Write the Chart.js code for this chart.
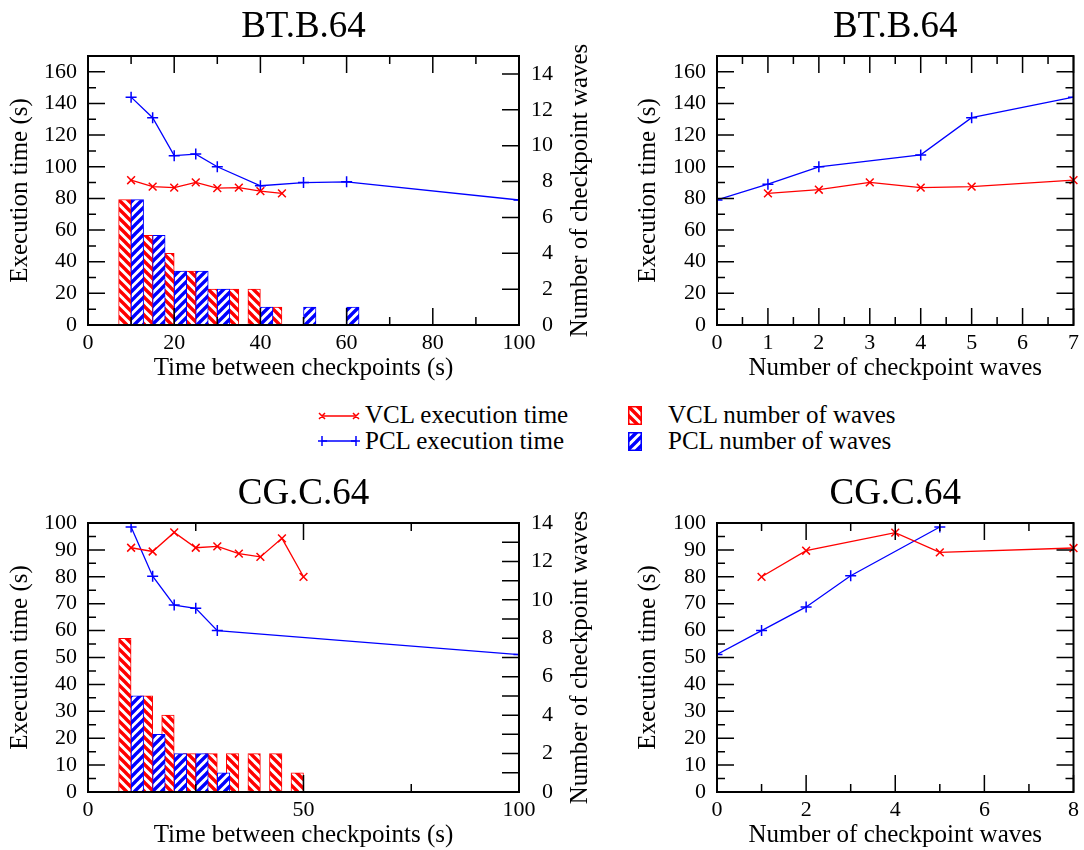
<!DOCTYPE html>
<html>
<head>
<meta charset="utf-8">
<script src="https://cdn.jsdelivr.net/npm/chart.js@4.4.1/dist/chart.umd.min.js"></script>
<style>
  body { margin: 0; background: #fff; width: 1084px; height: 850px; position: relative; overflow: hidden;
         font-family: "Liberation Serif", "Times New Roman", serif; }
  .box { position: absolute; }
  .key { position: absolute; font-size: 25px; line-height: 26px; color: #000; white-space: nowrap; }
  .sym { position: absolute; }
</style>
</head>
<body>
<div class="box" style="left:0;top:0"><canvas id="btTime" width="600" height="383"></canvas></div>
<div class="box" style="left:600px;top:0"><canvas id="btWaves" width="484" height="383"></canvas></div>
<div class="box" style="left:0;top:467px"><canvas id="cgTime" width="600" height="383"></canvas></div>
<div class="box" style="left:600px;top:467px"><canvas id="cgWaves" width="484" height="383"></canvas></div>

<svg class="sym" style="left:318px;top:409px" width="42" height="14">
  <line x1="4" y1="7" x2="38" y2="7" stroke="#f00" stroke-width="1.3"/>
  <path d="M1 4 L7 10 M7 4 L1 10 M35 4 L41 10 M41 4 L35 10" stroke="#f00" stroke-width="1.5"/>
</svg>
<div class="key" style="left:365px;top:402px">VCL execution time</div>
<svg class="sym" style="left:318px;top:434px" width="42" height="14">
  <line x1="4" y1="7" x2="38" y2="7" stroke="#00f" stroke-width="1.3"/>
  <path d="M4 2 L4 12 M-1 7 L9 7 M38 2 L38 12 M33 7 L43 7" stroke="#00f" stroke-width="1.5"/>
</svg>
<div class="key" style="left:365px;top:428px">PCL execution time</div>
<canvas class="sym" id="keyVcl" style="left:628px;top:406px" width="14" height="19"></canvas>
<div class="key" style="left:668px;top:402px">VCL number of waves</div>
<canvas class="sym" id="keyPcl" style="left:628px;top:432px" width="14" height="19"></canvas>
<div class="key" style="left:668px;top:428px">PCL number of waves</div>

<script>
const FONT = '"Liberation Serif", "Times New Roman", serif';
const RED = '#ff0000';
const BLUE = '#0000ff';

// BT.B.64 - time between checkpoints (s)
const btVclTimeX = [10, 15, 20, 25, 30, 35, 40, 45];
const btVclTime = [91.5, 87.4, 86.8, 90.1, 86.5, 86.8, 84.6, 83.2];
const btPclTimeX = [10, 15, 20, 25, 30, 40, 50, 60, 100];
const btPclTime = [144, 131, 107, 108, 100, 88, 90, 90.5, 79];
const btWaveX = [10, 15, 20, 25, 30, 35, 40, 45, 50, 55, 60];
const btVclWaves = [7, 5, 4, 3, 2, 2, 2, 1, 0, 0, 0];
const btPclWaves = [7, 5, 3, 3, 2, 0, 1, 0, 1, 0, 1];

// BT.B.64 - number of checkpoint waves
const btVclByWaveX = [1, 2, 3, 4, 5, 7];
const btVclByWave = [83.2, 85.5, 90.1, 86.8, 87.4, 91.6];
const btPclByWaveX = [0, 1, 2, 4, 5, 7];
const btPclByWave = [79, 89, 100, 107.5, 131, 144];

// CG.C.64 - time between checkpoints (s)
const cgVclTimeX = [10, 15, 20, 25, 30, 35, 40, 45, 50];
const cgVclTime = [90.8, 89.4, 96.5, 90.8, 91.3, 88.6, 87.4, 94.3, 80];
const cgPclTimeX = [10, 15, 20, 25, 30, 100];
const cgPclTime = [98.5, 80.2, 69.5, 68.3, 60, 51.1];
const cgVclWaveX = [10, 15, 20, 25, 30, 35, 40, 45, 50, 100];
const cgVclWaves = [8, 5, 4, 2, 2, 2, 2, 2, 1, 0];
const cgPclWaveX = [10, 15, 20, 25, 30, 35, 40, 45, 50];
const cgPclWaves = [5, 3, 2, 2, 1, 0, 0, 0, 0];

// CG.C.64 - number of checkpoint waves
const cgVclByWaveX = [1, 2, 4, 5, 8];
const cgVclByWave = [80, 89.7, 96.4, 89.1, 90.7];
const cgPclByWaveX = [0, 1, 2, 3, 5];
const cgPclByWave = [51.1, 60, 68.8, 80.4, 98.5];

const tickFont = { family: FONT, size: 22 };
const titleFont = { family: FONT, size: 25 };

function hatch(color, forward) {
  const c = document.createElement("canvas");
  c.width = c.height = 9;
  const g = c.getContext("2d");
  g.fillStyle = "#fff";
  g.fillRect(0, 0, 9, 9);
  g.strokeStyle = color;
  g.lineWidth = 3.4;
  g.beginPath();
  for (let k = -9; k <= 9; k += 9) {
    if (forward) { g.moveTo(k - 1, 10); g.lineTo(k + 10, -1); }
    else { g.moveTo(k - 1, -1); g.lineTo(k + 10, 10); }
  }
  g.stroke();
  return g.createPattern(c, "repeat");
}
const vclHatch = hatch(RED, false);
const pclHatch = hatch(BLUE, true);

const pts = (xs, ys) => xs.map((x, i) => ({ x, y: ys[i] }));

function lineSet(label, color, style, xs, ys) {
  return {
    type: "line", label, data: pts(xs, ys), yAxisID: "y",
    borderColor: color, backgroundColor: color, borderWidth: 1.3,
    pointStyle: style, pointRadius: 5.5, pointHoverRadius: 5.5, pointBorderWidth: 1.5,
    tension: 0, fill: false,
    clip: style === "cross" ? 0 : false
  };
}

function barSet(label, color, pattern, xs, ys) {
  return {
    type: "bar", label, data: pts(xs, ys), yAxisID: "y2",
    backgroundColor: pattern, borderColor: color, borderWidth: 1,
    barThickness: 12.5, borderSkipped: "start"
  };
}

function xAxis(max, step, text) {
  return {
    type: "linear", position: "bottom", min: 0, max, offset: false,
    grid: { display: false, drawTicks: false, offset: false }, border: { display: false },
    ticks: { stepSize: step, includeBounds: false, autoSkip: false, maxRotation: 0, padding: 5, color: "#000", font: tickFont },
    title: { display: true, text, color: "#000", font: titleFont, padding: { top: 0, bottom: 0 } },
    afterFit(s) { s.height = 58; }
  };
}

function yAxis(max, step, titlePad, width) {
  return {
    type: "linear", position: "left", min: 0, max,
    grid: { display: false, drawTicks: false }, border: { display: false },
    ticks: { stepSize: step, includeBounds: false, autoSkip: false, padding: 11, color: "#000", font: tickFont },
    title: { display: true, text: "Execution time (s)", color: "#000", font: titleFont, padding: { top: titlePad, bottom: 0 } },
    afterFit(s) { s.width = width; }
  };
}

function wavesAxis(max) {
  return {
    type: "linear", position: "right", min: 0, max,
    grid: { display: false, drawTicks: false }, border: { display: false },
    ticks: {
      stepSize: 2, includeBounds: false, autoSkip: false, padding: 12, color: "#000", font: tickFont,
      callback: v => (v < 10 ? "\u2002" : "") + v
    },
    afterFit(s) { s.width = 81; }
  };
}

function isMultiple(v, step) {
  const r = v / step;
  return Math.abs(r - Math.round(r)) < 1e-6;
}

// gnuplot-like frame with inward major/minor ticks, plus the right-hand title
const frameTicks = {
  id: "frameTicks",
  afterDraw(chart, args, opts) {
    const { ctx, chartArea: a, scales } = chart;

    ctx.save();
    ctx.strokeStyle = "#000";
    ctx.lineWidth = 1.5;
    ctx.beginPath();
    const x = scales.x;
    for (let v = x.min; v <= x.max + 1e-6; v += opts.x[1]) {
      const p = x.getPixelForValue(v);
      const len = isMultiple(v, opts.x[0]) ? 17 : 8;
      ctx.moveTo(p, a.bottom); ctx.lineTo(p, a.bottom - len);
      ctx.moveTo(p, a.top); ctx.lineTo(p, a.top + len);
    }
    const y = scales.y;
    for (let v = y.min; v <= y.max + 1e-6; v += opts.y[1]) {
      const p = y.getPixelForValue(v);
      const len = isMultiple(v, opts.y[0]) ? 17 : 8;
      ctx.moveTo(a.left, p); ctx.lineTo(a.left + len, p);
      if (!scales.y2) { ctx.moveTo(a.right, p); ctx.lineTo(a.right - len, p); }
    }
    if (scales.y2) {
      const y2 = scales.y2;
      for (let v = y2.min; v <= y2.max + 1e-6; v += opts.y2) {
        const p = y2.getPixelForValue(v);
        ctx.moveTo(a.right, p); ctx.lineTo(a.right - 17, p);
      }
    }
    ctx.stroke();

    ctx.lineWidth = 2;
    ctx.strokeRect(a.left, a.top, a.right - a.left, a.bottom - a.top);
    ctx.restore();

    if (!opts.y2Title) return;
    ctx.save();
    ctx.translate(opts.y2Title.x, (a.top + a.bottom) / 2);
    ctx.rotate(-Math.PI / 2);
    ctx.font = `${titleFont.size}px ${FONT}`;
    ctx.fillStyle = "#000";
    ctx.textAlign = "center";
    ctx.textBaseline = "middle";
    ctx.fillText(opts.y2Title.text, 0, 0);
    ctx.restore();
  }
};

// PCL bars sit on top of the VCL bars, as in the original plot
const vclBarsBelow = {
  id: "vclBarsBelow",
  beforeDatasetsDraw(chart) {
    if (chart.data.datasets.length < 3) return;
    const meta = chart.getDatasetMeta(2);
    if (meta.type === "bar" && chart.isDatasetVisible(2)) meta.controller.draw();
  },
  beforeDatasetDraw(chart, args) {
    if (args.index === 2 && args.meta.type === "bar") return false;
  }
};

function makeChart(id, title, datasets, scales, ticks, rightPad) {
  return new Chart(document.getElementById(id), {
    type: "line",
    data: { datasets },
    options: {
      responsive: false,
      animation: false,
      layout: { padding: { left: 0, right: rightPad, top: 0, bottom: 0 } },
      scales,
      plugins: {
        legend: { display: false },
        tooltip: { enabled: false },
        title: {
          display: true, text: title, color: "#000", fullSize: false,
          font: { family: FONT, size: 37, weight: "normal" }, padding: { top: 5, bottom: 6.6 }
        },
        frameTicks: ticks
      }
    },
    plugins: [frameTicks, vclBarsBelow]
  });
}

makeChart("btTime", "BT.B.64", [
  lineSet("VCL execution time", RED, "crossRot", btVclTimeX, btVclTime),
  lineSet("PCL execution time", BLUE, "cross", btPclTimeX, btPclTime),
  barSet("VCL number of waves", RED, vclHatch, btWaveX, btVclWaves),
  barSet("PCL number of waves", BLUE, pclHatch, btWaveX, btPclWaves)
], {
  x: xAxis(100, 20, "Time between checkpoints (s)"),
  y: yAxis(170, 20, 5.5, 88),
  y2: wavesAxis(15)
}, { x: [20, 10], y: [20, 10], y2: 2, y2Title: { text: "Number of checkpoint waves", x: 580 } }, 0);

makeChart("btWaves", "BT.B.64", [
  lineSet("VCL execution time", RED, "crossRot", btVclByWaveX, btVclByWave),
  lineSet("PCL execution time", BLUE, "cross", btPclByWaveX, btPclByWave)
], {
  x: xAxis(7, 1, "Number of checkpoint waves"),
  y: yAxis(170, 20, 33, 117)
}, { x: [1, 0.5], y: [20, 10] }, 8);

makeChart("cgTime", "CG.C.64", [
  lineSet("VCL execution time", RED, "crossRot", cgVclTimeX, cgVclTime),
  lineSet("PCL execution time", BLUE, "cross", cgPclTimeX, cgPclTime),
  barSet("VCL number of waves", RED, vclHatch, cgVclWaveX, cgVclWaves),
  barSet("PCL number of waves", BLUE, pclHatch, cgPclWaveX, cgPclWaves)
], {
  x: xAxis(100, 50, "Time between checkpoints (s)"),
  y: yAxis(100, 10, 5.5, 88),
  y2: wavesAxis(14)
}, { x: [50, 25], y: [10, 5], y2: 1, y2Title: { text: "Number of checkpoint waves", x: 580 } }, 0);

makeChart("cgWaves", "CG.C.64", [
  lineSet("VCL execution time", RED, "crossRot", cgVclByWaveX, cgVclByWave),
  lineSet("PCL execution time", BLUE, "cross", cgPclByWaveX, cgPclByWave)
], {
  x: xAxis(8, 2, "Number of checkpoint waves"),
  y: yAxis(100, 10, 33, 117)
}, { x: [2, 1], y: [10, 5] }, 8);

// legend swatches for the hatched bars
[["keyVcl", RED, vclHatch], ["keyPcl", BLUE, pclHatch]].forEach(([id, color, pattern]) => {
  const g = document.getElementById(id).getContext("2d");
  g.fillStyle = color;
  g.fillRect(0, 0, 14, 19);
  g.fillStyle = pattern;
  g.fillRect(1.5, 1.5, 11, 16);
});
</script>
</body>
</html>
